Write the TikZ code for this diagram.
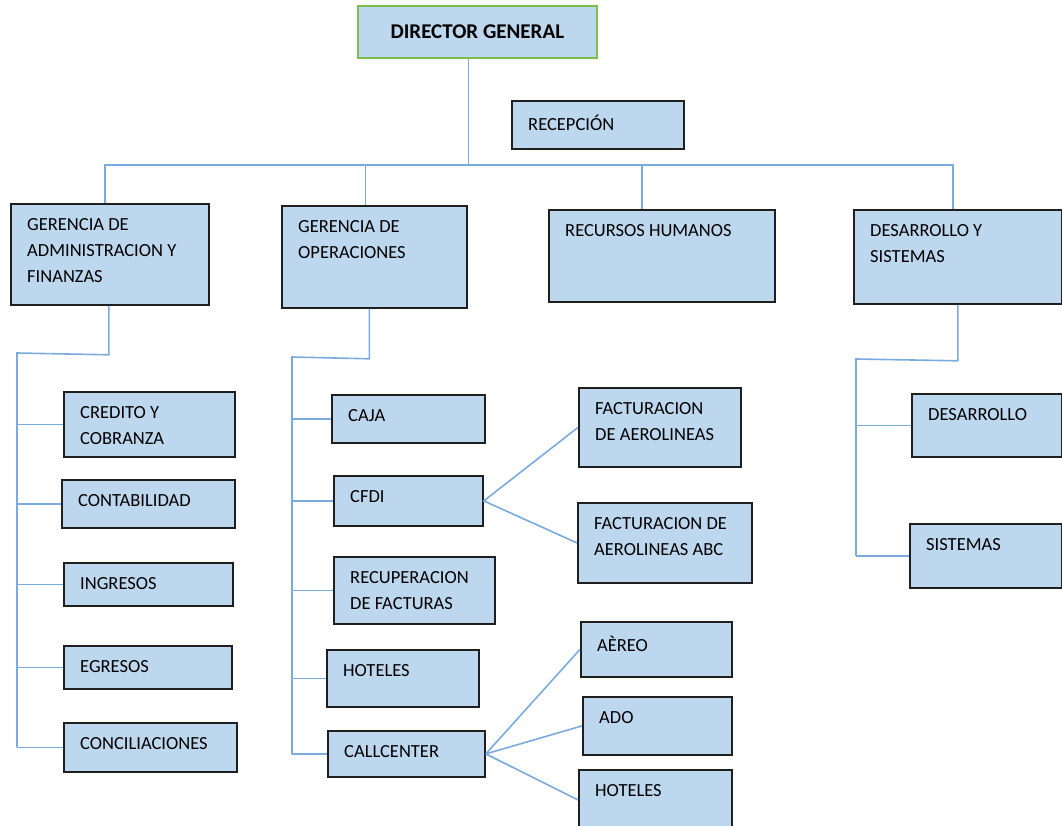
\documentclass[tikz,border=0pt]{standalone}
\usepackage{xcolor}
\usepackage{fontspec}
\setmainfont{Carlito}
\usepackage{tikz}

\definecolor{boxblue}{HTML}{BDD7EE}
\definecolor{linkblue}{HTML}{7AAADF}
\definecolor{boxline}{HTML}{1F1F1F}
\definecolor{dggreen}{HTML}{7DBE4F}

\tikzset{
  lbl/.style={anchor=north west,align=left,inner sep=0pt,xshift=17pt,yshift=-15pt,font=\fontsize{18.5}{26}\selectfont},
  orgbox/.style={draw=boxline,fill=boxblue,line width=1.8pt,anchor=north west,inner sep=0pt,label={[lbl]north west:#1}},
  link/.style={draw=linkblue,line width=1.6pt}
}

\begin{document}
\begin{tikzpicture}[x=1pt,y=-1pt]
    \useasboundingbox (0,0) rectangle (1062,825);
    % director y recepcion
    \node[draw=dggreen,fill=boxblue,line width=1.8pt,anchor=north west,minimum width=239,minimum height=52,font=\fontsize{21}{24}\selectfont\bfseries](dg) at (357,5){DIRECTOR GENERAL};
    \node[orgbox={RECEPCIÓN},minimum width=172,minimum height=48](rec) at (511,100){};
    % gerencias
    \node[orgbox={GERENCIA DE\\ADMINISTRACION Y\\FINANZAS},minimum width=198,minimum height=101](gaf) at (10,203){};
    \node[orgbox={GERENCIA DE\\OPERACIONES},minimum width=185,minimum height=102](go) at (281,205){};
    \node[orgbox={RECURSOS HUMANOS},minimum width=226,minimum height=92](rh) at (548,209){};
    \node[orgbox={DESARROLLO Y\\SISTEMAS},minimum width=208,minimum height=94](ds) at (853,209){};
    % administracion y finanzas
    \node[orgbox={CREDITO Y\\COBRANZA},minimum width=171,minimum height=65](cred) at (63,391){};
    \node[orgbox={CONTABILIDAD},minimum width=173,minimum height=48](cont) at (61,479){};
    \node[orgbox={INGRESOS},minimum width=169,minimum height=43](ingr) at (63,562){};
    \node[orgbox={EGRESOS},minimum width=168,minimum height=43](egre) at (63,645){};
    \node[orgbox={CONCILIACIONES},minimum width=173,minimum height=49](conc) at (63,722){};
    % operaciones
    \node[orgbox={CAJA},minimum width=153,minimum height=48](caja) at (331,394){};
    \node[orgbox={CFDI},minimum width=149,minimum height=50](cfdi) at (333,475){};
    \node[orgbox={RECUPERACION\\DE FACTURAS},minimum width=161,minimum height=67](recu) at (333,556){};
    \node[orgbox={HOTELES},minimum width=152,minimum height=57](hot) at (326,649){};
    \node[orgbox={CALLCENTER},minimum width=157,minimum height=46](call) at (327,730){};
    \node[orgbox={FACTURACION\\DE AEROLINEAS},minimum width=162,minimum height=79](fa) at (578,387){};
    \node[orgbox={FACTURACION DE\\AEROLINEAS ABC},minimum width=174,minimum height=80](fabc) at (577,502){};
    \node[orgbox={AÈREO},minimum width=151,minimum height=55](aer) at (580,621){};
    \node[orgbox={ADO},minimum width=149,minimum height=58](ado) at (582,696){};
    \node[orgbox={HOTELES},minimum width=153,minimum height=60](hcall) at (578,769){};
    % desarrollo y sistemas
    \node[orgbox={DESARROLLO},minimum width=150,minimum height=63](des) at (911,393){};
    \node[orgbox={SISTEMAS},minimum width=152,minimum height=64](sis) at (909,523){};

    % conexiones
    \draw[link] ([xshift=-9]dg.south) -- ++(0,106) coordinate (bus);
    \draw[link] ([xshift=-5]gaf.north) |- (bus) -| ([xshift=-5]ds.north);
    \draw[link] ([xshift=-9]go.north) -- ([xshift=-9]go.north |- bus);
    \draw[link] ([xshift=-20]rh.north) -- ([xshift=-20]rh.north |- bus);

    \draw[link] ([xshift=-1]gaf.south) -- ++(0,49) -- (17,353) coordinate (spa) -- (spa |- conc.west);
    \foreach \n in {cred,cont,ingr,egre,conc}
      \draw[link] (spa |- \n.west) -- (\n.west);

    \draw[link] ([xshift=-5]go.south) -- ++(0,50) -- (292,357) coordinate (spo) -- (spo |- call.west);
    \foreach \n in {caja,cfdi,recu,hot,call}
      \draw[link] (spo |- \n.west) -- (\n.west);
    \draw[link] (fa.west) -- (cfdi.east) -- (fabc.west);
    \foreach \n in {aer,ado,hcall}
      \draw[link] (call.east) -- (\n.west);

    \draw[link] (ds.south) -- ++(0,56) -- (856,359) coordinate (spd) -- (spd |- sis.west);
    \foreach \n in {des,sis}
      \draw[link] (spd |- \n.west) -- (\n.west);
\end{tikzpicture}
\end{document}
